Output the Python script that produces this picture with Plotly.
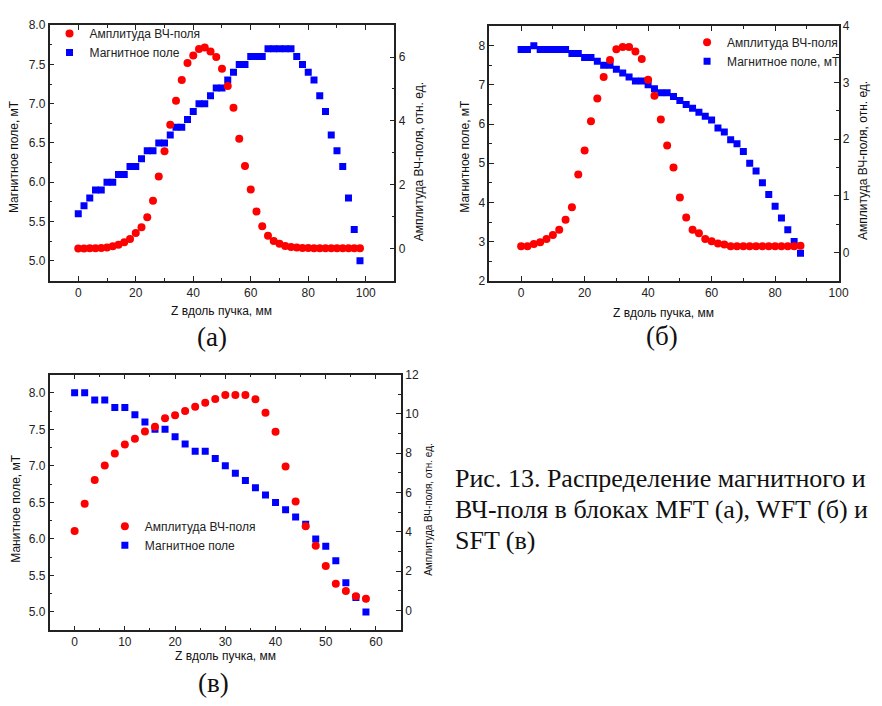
import plotly.graph_objects as go

# ---------------- data ----------------
z_a = list(range(0, 100, 2))
a_rf = [0.00, 0.00, 0.01, 0.01, 0.02, 0.03, 0.07, 0.12, 0.20, 0.30,
        0.49, 0.67, 0.98, 1.50, 2.26, 3.05, 3.88, 4.63, 5.28, 5.81,
        6.05, 6.25, 6.30, 6.17, 6.00, 5.63, 5.09, 4.41, 3.44, 2.59,
        1.85, 1.16, 0.70, 0.40, 0.24, 0.15, 0.08, 0.05, 0.03, 0.02,
        0.02, 0.01, 0.01, 0.01, 0.01, 0.01, 0.01, 0.01, 0.01, 0.01]
a_mag = [5.6, 5.7, 5.8, 5.9, 5.9, 6.0, 6.0, 6.1, 6.1, 6.2,
         6.2, 6.3, 6.4, 6.4, 6.5, 6.5, 6.6, 6.7, 6.7, 6.8,
         6.9, 7.0, 7.0, 7.1, 7.2, 7.2, 7.3, 7.4, 7.5, 7.5,
         7.6, 7.6, 7.6, 7.7, 7.7, 7.7, 7.7, 7.7, 7.6, 7.5,
         7.4, 7.3, 7.1, 6.9, 6.6, 6.4, 6.2, 5.8, 5.4, 5.0]

z_b = list(range(0, 90, 2))
b_rf = [0.11, 0.11, 0.15, 0.18, 0.24, 0.31, 0.40, 0.58, 0.80, 1.38,
        1.80, 2.32, 2.72, 3.10, 3.40, 3.59, 3.63, 3.63, 3.55, 3.42,
        3.05, 2.77, 2.35, 1.89, 1.50, 0.97, 0.62, 0.40, 0.34, 0.24,
        0.20, 0.16, 0.14, 0.11, 0.11, 0.11, 0.11, 0.11, 0.11, 0.11,
        0.11, 0.11, 0.11, 0.11, 0.12]
b_mag = [7.9, 7.9, 8.0, 7.9, 7.9, 7.9, 7.9, 7.9, 7.8, 7.8,
         7.7, 7.7, 7.6, 7.5, 7.5, 7.4, 7.3, 7.2, 7.1, 7.1,
         7.0, 6.9, 6.8, 6.8, 6.7, 6.6, 6.5, 6.4, 6.3, 6.2,
         6.1, 5.9, 5.8, 5.6, 5.5, 5.3, 5.0, 4.8, 4.5, 4.2,
         3.9, 3.6, 3.3, 3.0, 2.7]

z_c = list(range(0, 60, 2))
c_rf = [4.04, 5.43, 6.64, 7.38, 7.99, 8.44, 8.74, 9.10, 9.35, 9.78,
        9.93, 10.15, 10.36, 10.56, 10.76, 10.96, 10.96, 10.96, 10.74, 10.06,
        9.09, 7.32, 5.54, 4.29, 3.30, 2.27, 1.37, 0.99, 0.73, 0.60]
c_mag = [8.0, 8.0, 7.9, 7.9, 7.8, 7.8, 7.7, 7.6, 7.5, 7.5,
         7.4, 7.3, 7.2, 7.2, 7.1, 7.0, 6.9, 6.8, 6.7, 6.6,
         6.5, 6.4, 6.3, 6.2, 6.0, 5.9, 5.7, 5.4, 5.2, 5.0]

name_rf = "Амплитуда ВЧ-поля"
name_mag = "Магнитное поле"
name_mag_b = "Магнитное поле, мТ"
x_title = "Z вдоль пучка, мм"
yl_title = "Магнитное поле, мТ"
yr_title = "Амплитуда ВЧ-поля, отн. ед."
yl_title_c = "Манитное поле, мТ"

# ---------------- layout helpers ----------------
PAGE_W, PAGE_H = 882, 706
OFF = 8  # default body margin of the html page
W, H = PAGE_W - 2 * OFF, PAGE_H - 2 * OFF
def dx(p):
    return (p - OFF) / W
def dy(p):
    return 1 - (p - OFF) / H

SANS = "Liberation Sans, Arial, sans-serif"
SERIF = "Liberation Serif, Times New Roman, serif"
LINE = "#222222"
RED = "#ff0000"
BLUE = "#0000ff"

def ax(rng, dtick, minor, tick0=0, fmt=None, **kw):
    d = dict(range=rng, dtick=dtick, tick0=tick0, showline=True, linecolor=LINE,
             linewidth=1.5, ticks="inside", ticklen=5, tickwidth=1.2, tickcolor=LINE,
             showgrid=False, zeroline=False,
             tickfont=dict(family=SANS, size=12, color="#222222"),
             minor=dict(dtick=minor, tick0=tick0, ticks="inside", ticklen=3,
                        tickwidth=1.2, tickcolor=LINE, showgrid=False))
    if fmt:
        d["tickformat"] = fmt
    d.update(kw)
    return d

fig = go.Figure()

# (a)
fig.add_trace(go.Scatter(x=z_a, y=a_mag, xaxis="x", yaxis="y", mode="markers", name=name_mag,
                         marker=dict(symbol="square", size=7, color=BLUE), legend="legend", legendrank=2))
fig.add_trace(go.Scatter(x=z_a, y=a_rf, xaxis="x", yaxis="y2", mode="markers", name=name_rf,
                         marker=dict(symbol="circle", size=8, color=RED), legend="legend", legendrank=1))
# (b)
fig.add_trace(go.Scatter(x=z_b, y=b_mag, xaxis="x2", yaxis="y3", mode="markers", name=name_mag_b,
                         marker=dict(symbol="square", size=7, color=BLUE), legend="legend2", legendrank=2))
fig.add_trace(go.Scatter(x=z_b, y=b_rf, xaxis="x2", yaxis="y4", mode="markers", name=name_rf,
                         marker=dict(symbol="circle", size=8, color=RED), legend="legend2", legendrank=1))
# (c)
fig.add_trace(go.Scatter(x=z_c, y=c_mag, xaxis="x3", yaxis="y5", mode="markers", name=name_mag,
                         marker=dict(symbol="square", size=7, color=BLUE), legend="legend3", legendrank=2))
fig.add_trace(go.Scatter(x=z_c, y=c_rf, xaxis="x3", yaxis="y6", mode="markers", name=name_rf,
                         marker=dict(symbol="circle", size=8, color=RED), legend="legend3", legendrank=1))

leg_common = dict(bgcolor="rgba(0,0,0,0)", borderwidth=0, xanchor="left", yanchor="top",
                  font=dict(family=SANS, size=12, color="#222222"), traceorder="normal")

fig.update_layout(
    width=W, height=H, margin=dict(l=0, r=0, t=0, b=0),
    paper_bgcolor="white", plot_bgcolor="rgba(0,0,0,0)",
    xaxis=ax([-10, 110], 20, 10, domain=[dx(50), dx(399)], anchor="y", mirror="ticks"),
    yaxis=ax([4.75, 8.0], 0.5, 0.25, fmt=".1f", domain=[dy(279), dy(18.3)], anchor="x"),
    yaxis2=ax([-1, 7], 2, 1, overlaying="y", side="right", anchor="x"),
    xaxis2=ax([-10, 100], 20, 10, domain=[dx(495), dx(848.3)], anchor="y3", mirror="ticks"),
    yaxis3=ax([2, 8.5], 1, 0.5, domain=[dy(279.3), dy(19.3)], anchor="x2"),
    yaxis4=ax([-0.5, 4], 1, 0.5, overlaying="y3", side="right", anchor="x2"),
    xaxis3=ax([-5, 65], 10, 5, domain=[dx(50), dx(405.7)], anchor="y5", mirror="ticks"),
    yaxis5=ax([4.75, 8.25], 0.5, 0.25, fmt=".1f", domain=[dy(636), dy(375)], anchor="x3"),
    yaxis6=ax([-1, 12], 2, 1, overlaying="y5", side="right", anchor="x3"),
    legend=dict(x=dx(50), y=dy(12), **leg_common),
    legend2=dict(x=dx(695), y=dy(21), **leg_common),
    legend3=dict(x=dx(106), y=dy(515), **leg_common),
    showlegend=True,
)

ann = []
def txt(x, y, t, size=12, angle=0, family=SANS, xanchor="center"):
    ann.append(dict(x=dx(x), y=dy(y), xref="paper", yref="paper", text=t, showarrow=False,
                    textangle=angle, xanchor=xanchor, yanchor="middle",
                    font=dict(family=family, size=size, color="#111111")))

# (a) titles
txt(224, 310, x_title)
txt(14, 152, yl_title, angle=-90)
txt(424, 158, yr_title, angle=-90)
# (b) titles
txt(671, 312, x_title)
txt(470, 152, yl_title, angle=-90)
txt(873, 157, yr_title, angle=-90)
# (c) titles
txt(228, 662, x_title)
txt(16, 512, yl_title_c, angle=-90)
txt(434, 513, yr_title, size=10, angle=-90)
# panel labels
txt(214, 337, "(а)", size=27, family=SERIF)
txt(670, 336, "(б)", size=27, family=SERIF)
txt(216, 690, "(в)", size=27, family=SERIF)
# caption
txt(458, 481, "Рис. 13. Распределение магнитного и", size=26, family=SERIF, xanchor="left")
txt(458, 513, "ВЧ-поля в блоках MFT (а), WFT (б) и", size=26, family=SERIF, xanchor="left")
txt(458, 544, "SFT (в)", size=26, family=SERIF, xanchor="left")

fig.update_layout(annotations=ann)
fig.write_html("out.html")
